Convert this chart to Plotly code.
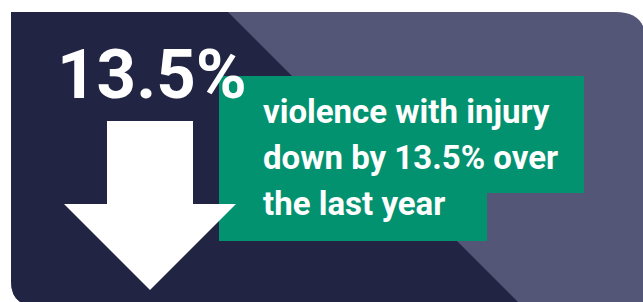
import plotly.graph_objects as go

# ---- content ----
change_pct = 13.5
headline = [f"{change_pct}%"]
message_lines = ["violence with injury", f"down by {change_pct}% over", "the last year"]

# ---- colours ----
NAVY = "#212443"
SLATE = "#535677"
GREEN = "#039270"
WHITE = "#ffffff"

W, H = 643, 302

fig = go.Figure()

shapes = [
    # light slate panel (full)
    dict(type="path", path="M11,12 L616,12 Q646,12 646,42 L646,306 L36,306 Q11,306 11,281 Z",
         fillcolor=SLATE, line=dict(width=0), layer="below"),
    # dark navy part with 45-degree diagonal
    dict(type="path", path="M11,12 L228,12 L522,306 L36,306 Q11,306 11,281 Z",
         fillcolor=NAVY, line=dict(width=0), layer="below"),
    # green stepped box
    dict(type="path", path="M219,76 L584,76 L584,193 L487,193 L487,241 L219,241 Z",
         fillcolor=GREEN, line=dict(width=0), layer="below"),
    # white down arrow
    dict(type="path", path="M107,121 L193,121 L193,204 L236,204 L150,290 L64,204 L107,204 Z",
         fillcolor=WHITE, line=dict(width=0), layer="below"),
]

annotations = [
    dict(x=55, y=74, xref="x", yref="y", text=f"<b>{headline[0]}</b>", showarrow=False,
         xanchor="left", yanchor="middle",
         font=dict(family="Roboto", size=69, color=WHITE, weight=700)),
]
line_y = [111, 157, 203]
for txt, yy in zip(message_lines, line_y):
    annotations.append(dict(x=261, y=yy, xref="x", yref="y", text=f"<b>{txt}</b>",
                            showarrow=False, xanchor="left", yanchor="middle",
                            font=dict(family="Roboto", size=33, color=WHITE, weight=700)))

fig.update_layout(
    width=W, height=H,
    margin=dict(l=0, r=0, t=0, b=0),
    paper_bgcolor=WHITE, plot_bgcolor=WHITE,
    xaxis=dict(range=[0, W], visible=False, fixedrange=True),
    yaxis=dict(range=[H, 0], visible=False, fixedrange=True),
    shapes=shapes, annotations=annotations, showlegend=False,
)

fig.write_html("out.html", config={"displayModeBar": False},
               post_script="document.body.style.margin='0';")
